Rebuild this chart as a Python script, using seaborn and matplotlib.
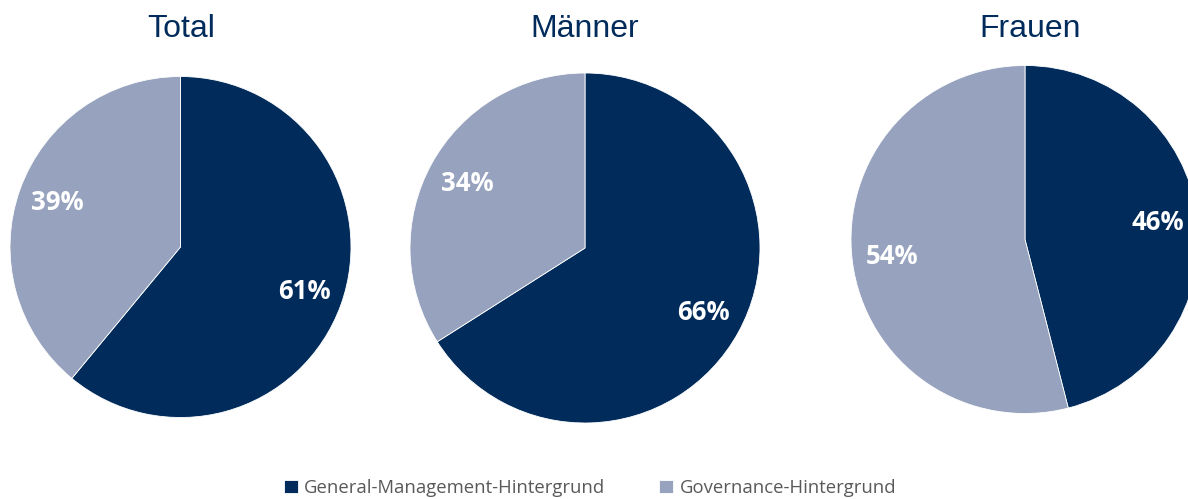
import matplotlib
matplotlib.use("Agg")
import matplotlib.pyplot as plt
import seaborn as sns

# ---- data ----
groups = ["Total", "Männer", "Frauen"]
categories = ["General-Management-Hintergrund", "Governance-Hintergrund"]
general_mgmt = [61, 66, 46]
governance = [39, 34, 54]

sns.set_theme(style="white")
plt.rcParams["font.family"] = ["Liberation Sans", "DejaVu Sans"]

colors = ["#002B5A", "#97A3BE"]
title_color = "#002B5A"

W, H = 1188, 499
fig = plt.figure(figsize=(W / 100, H / 100), dpi=100)
fig.patch.set_facecolor("white")

# pixel geometry (center x, center y from top, radius)
geom = [(180.5, 247, 170.5), (585, 248, 175), (1025, 239.5, 174)]
title_x = [181, 585, 1030]

wedges_first = None
for i, g in enumerate(groups):
    cx, cy, r = geom[i]
    ax = fig.add_axes([(cx - r) / W, (H - cy - r) / H, 2 * r / W, 2 * r / H])
    vals = [general_mgmt[i], governance[i]]
    wedges, texts, autotexts = ax.pie(
        vals, colors=colors, startangle=90, counterclock=False, radius=1,
        autopct=lambda p: f"{p:.0f}%", pctdistance=0.77,
        wedgeprops=dict(linewidth=0.6, edgecolor="white"),
        textprops=dict(color="white", fontsize=18.5, fontweight="bold",
                       family=["Open Sans", "DejaVu Sans"]))
    ax.set_xlim(-1, 1)
    ax.set_ylim(-1, 1)
    ax.set_axis_off()
    if wedges_first is None:
        wedges_first = wedges
    fig.text(title_x[i] / W, 1 - 29 / H, g, ha="center", va="center",
             fontsize=23, color=title_color)

leg = fig.legend(wedges_first, categories, loc="center", bbox_to_anchor=(590 / W, 1 - 488 / H),
                 ncol=2, frameon=False, handlelength=0.75, handleheight=0.75,
                 handletextpad=0.35, columnspacing=2.9,
                 prop=dict(family=["Open Sans", "DejaVu Sans"], size=13.3))
for t in leg.get_texts():
    t.set_color("#595959")

fig.savefig("out.png", dpi=100, facecolor="white")
